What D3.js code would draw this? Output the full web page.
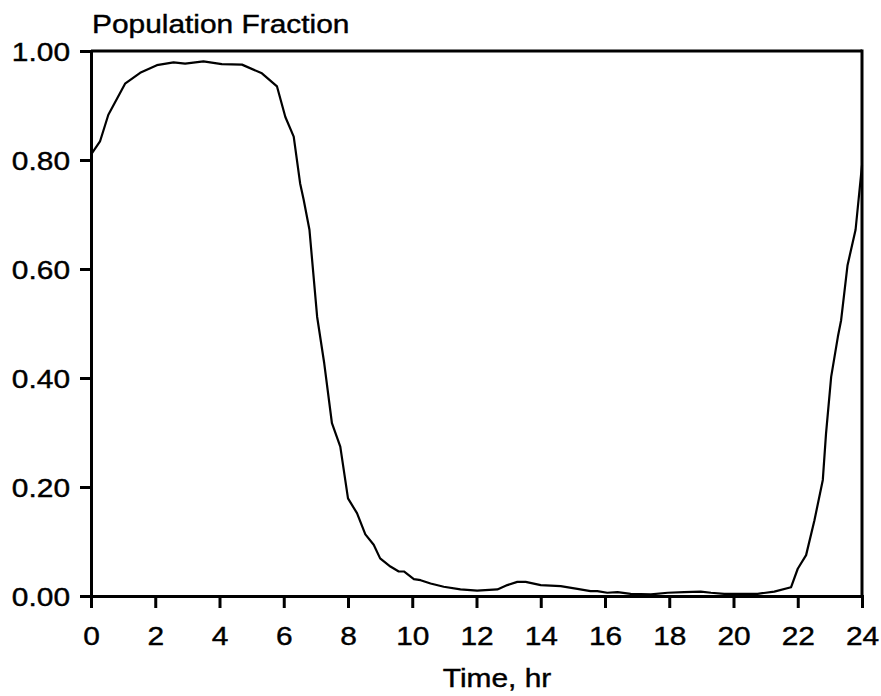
<!DOCTYPE html>
<html>
<head>
<meta charset="utf-8">
<script src="https://cdn.jsdelivr.net/npm/d3@7"></script>
<style>
  body { margin: 0; background: #fff; }
  text { font-family: "Liberation Sans", Arial, sans-serif; fill: #000; stroke: #000; stroke-width: 0.4px; }
</style>
</head>
<body>
<script>
// Values
var hours = [0, 0.28, 0.54, 1.06, 1.53, 2.05, 2.57, 2.93, 3.5, 4.07, 4.7, 5.32, 5.79, 6.05, 6.31,
  6.51, 6.62, 6.8, 7.04, 7.26, 7.5, 7.76, 8.0, 8.28, 8.54, 8.8, 9.0, 9.32, 9.58, 9.74, 10.05,
  10.26, 10.57, 10.98, 11.5, 12.02, 12.65, 12.96, 13.27, 13.53, 14.0, 14.62, 15.14, 15.55,
  15.76, 16.07, 16.39, 16.8, 17.43, 17.95, 18.46, 18.98, 19.3, 19.71, 20.75, 21.27, 21.79,
  22.0, 22.26, 22.52, 22.78, 22.88, 23.04, 23.25, 23.35, 23.55, 23.8, 24];
var fraction = [0.81, 0.834, 0.883, 0.94, 0.96, 0.974, 0.979, 0.977, 0.981, 0.976, 0.975, 0.959, 0.935, 0.879, 0.843,
  0.757, 0.727, 0.672, 0.512, 0.427, 0.317, 0.274, 0.179, 0.152, 0.113, 0.094, 0.069, 0.054, 0.045, 0.045, 0.031,
  0.029, 0.023, 0.017, 0.012, 0.010, 0.012, 0.020, 0.026, 0.026, 0.020, 0.018, 0.013, 0.009,
  0.009, 0.006, 0.007, 0.004, 0.003, 0.006, 0.007, 0.008, 0.006, 0.004, 0.004, 0.008, 0.016,
  0.05, 0.075, 0.139, 0.213, 0.298, 0.402, 0.476, 0.506, 0.607, 0.672, 0.79];
var xTicks = [0, 2, 4, 6, 8, 10, 12, 14, 16, 18, 20, 22, 24];
var yTicks = [0, 0.2, 0.4, 0.6, 0.8, 1.0];

var svgWidth = 881;
var svgHeight = 696;
var margin = {top: 51, right: 19, bottom: 100, left: 91};
var width = svgWidth - margin.left - margin.right;
var height = svgHeight - margin.top - margin.bottom;
var fontSize = 26;
var stretch = 1.15;   // the original lettering is wide

var svg = d3.select("body")
  .append("svg")
  .attr("width", svgWidth)
  .attr("height", svgHeight);

var chartGroup = svg.append("g")
  .attr("transform", `translate(${margin.left}, ${margin.top})`);

var xScale = d3.scaleLinear().domain([0, 24]).range([0, width]);
var yScale = d3.scaleLinear().domain([0, 1]).range([height, 0]);

var bottomAxis = d3.axisBottom(xScale)
  .tickValues(xTicks)
  .tickSizeInner(12)
  .tickSizeOuter(0)
  .tickFormat(d3.format("d"));
var leftAxis = d3.axisLeft(yScale)
  .tickValues(yTicks)
  .tickSizeInner(11)
  .tickSizeOuter(0)
  .tickFormat(d3.format(".2f"));

// frame top and right
chartGroup.append("line")
  .attr("x1", 0).attr("x2", width).attr("y1", 0).attr("y2", 0)
  .attr("stroke", "#000").attr("stroke-width", 3);
chartGroup.append("line")
  .attr("x1", width).attr("x2", width).attr("y1", -1.5).attr("y2", height)
  .attr("stroke", "#000").attr("stroke-width", 3);

var xAxisG = chartGroup.append("g")
  .attr("transform", `translate(0, ${height})`)
  .call(bottomAxis);
var yAxisG = chartGroup.append("g")
  .call(leftAxis);

[xAxisG, yAxisG].forEach(function(g) {
  g.attr("font-family", null).attr("font-size", null);
  g.select(".domain").attr("stroke-width", 3).attr("stroke-linecap", "square");
  g.selectAll(".tick line").attr("stroke-width", 3);
  g.selectAll(".tick text").style("font-size", fontSize + "px");
});

xAxisG.selectAll(".tick text")
  .attr("y", 30.5)
  .attr("transform", `scale(${stretch},1)`);
yAxisG.selectAll(".tick text")
  .attr("x", -21 / stretch)
  .attr("dy", "0.38em")
  .attr("transform", `scale(${stretch},1)`);

// the curve
var points = hours.map(function(h, i) { return {h: h, f: fraction[i]}; });
var line = d3.line()
  .x(d => xScale(d.h))
  .y(d => yScale(d.f));

chartGroup.append("path")
  .datum(points)
  .attr("fill", "none")
  .attr("stroke", "#000")
  .attr("stroke-width", 2.2)
  .attr("stroke-linejoin", "round")
  .attr("d", line);

// axis titles
svg.append("text")
  .attr("transform", `translate(92, 33) scale(${stretch},1)`)
  .style("font-size", fontSize + "px")
  .text("Population Fraction");

svg.append("text")
  .attr("transform", `translate(497, 687) scale(${stretch},1)`)
  .style("font-size", fontSize + "px")
  .style("text-anchor", "middle")
  .text("Time, hr");
</script>
</body>
</html>
